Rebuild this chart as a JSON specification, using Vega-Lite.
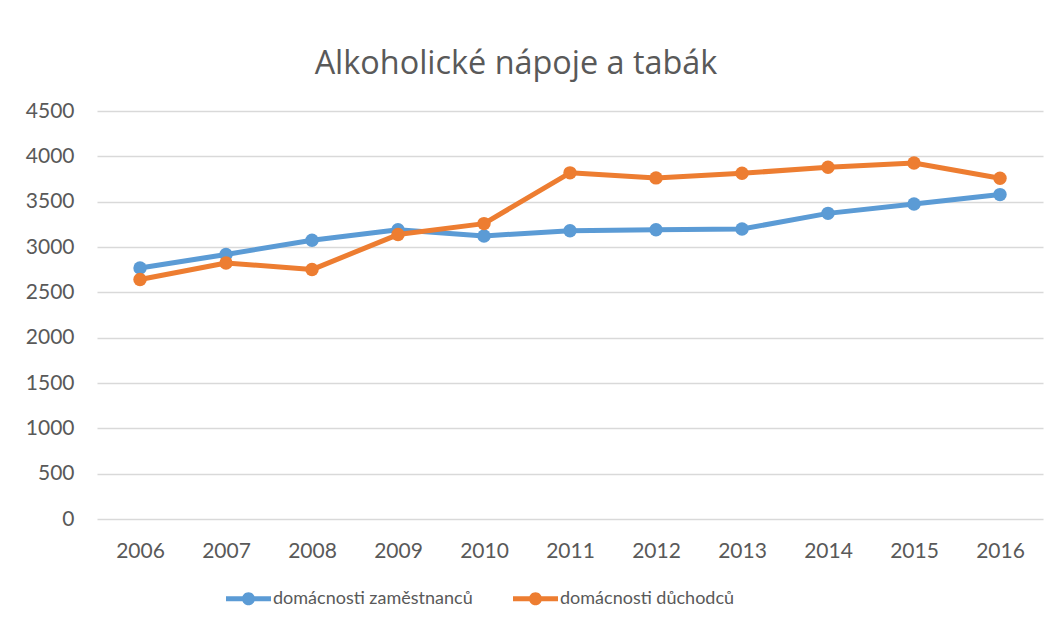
{
  "$schema": "https://vega.github.io/schema/vega-lite/v6.json",
  "width": 946,
  "height": 408,
  "autosize": {"type": "none"},
  "padding": {"left": 97, "top": 111, "right": 17, "bottom": 116},
  "background": "white",
  "title": {
    "text": "Alkoholické nápoje a tabák",
    "fontSize": 32.4,
    "font": "Open Sans",
    "fontWeight": "normal",
    "color": "#595959",
    "anchor": "middle",
    "offset": 20,
    "dx": -54
  },
  "data": {
    "values": [
      {"rok": "2006", "serie": "domácnosti zaměstnanců", "hodnota": 2768},
      {"rok": "2007", "serie": "domácnosti zaměstnanců", "hodnota": 2918},
      {"rok": "2008", "serie": "domácnosti zaměstnanců", "hodnota": 3074},
      {"rok": "2009", "serie": "domácnosti zaměstnanců", "hodnota": 3190},
      {"rok": "2010", "serie": "domácnosti zaměstnanců", "hodnota": 3122},
      {"rok": "2011", "serie": "domácnosti zaměstnanců", "hodnota": 3180},
      {"rok": "2012", "serie": "domácnosti zaměstnanců", "hodnota": 3190},
      {"rok": "2013", "serie": "domácnosti zaměstnanců", "hodnota": 3198},
      {"rok": "2014", "serie": "domácnosti zaměstnanců", "hodnota": 3371},
      {"rok": "2015", "serie": "domácnosti zaměstnanců", "hodnota": 3474},
      {"rok": "2016", "serie": "domácnosti zaměstnanců", "hodnota": 3578},
      {"rok": "2006", "serie": "domácnosti důchodců", "hodnota": 2641},
      {"rok": "2007", "serie": "domácnosti důchodců", "hodnota": 2824},
      {"rok": "2008", "serie": "domácnosti důchodců", "hodnota": 2751},
      {"rok": "2009", "serie": "domácnosti důchodců", "hodnota": 3137},
      {"rok": "2010", "serie": "domácnosti důchodců", "hodnota": 3258},
      {"rok": "2011", "serie": "domácnosti důchodců", "hodnota": 3818},
      {"rok": "2012", "serie": "domácnosti důchodců", "hodnota": 3762},
      {"rok": "2013", "serie": "domácnosti důchodců", "hodnota": 3813},
      {"rok": "2014", "serie": "domácnosti důchodců", "hodnota": 3880},
      {"rok": "2015", "serie": "domácnosti důchodců", "hodnota": 3927},
      {"rok": "2016", "serie": "domácnosti důchodců", "hodnota": 3758}
    ]
  },
  "encoding": {
    "x": {
      "field": "rok",
      "type": "ordinal",
      "scale": {"type": "point", "padding": 0.5},
      "axis": {
        "title": null,
        "labelAngle": 0,
        "labelFontSize": 21,
        "labelFont": "Lato",
        "labelColor": "#595959",
        "labelPadding": 21,
        "ticks": false,
        "domain": false,
        "grid": false
      }
    },
    "y": {
      "field": "hodnota",
      "type": "quantitative",
      "scale": {"domain": [0, 4500], "nice": false},
      "axis": {
        "title": null,
        "format": "d",
        "values": [0, 500, 1000, 1500, 2000, 2500, 3000, 3500, 4000, 4500],
        "labelFontSize": 21,
        "labelFont": "Lato",
        "labelColor": "#595959",
        "labelPadding": 23,
        "ticks": false,
        "domain": false,
        "grid": true,
        "gridColor": "#d9d9d9",
        "gridWidth": 1.5
      }
    },
    "color": {
      "field": "serie",
      "type": "nominal",
      "scale": {
        "domain": ["domácnosti zaměstnanců", "domácnosti důchodců"],
        "range": ["#5B9BD5", "#ED7D31"]
      },
      "legend": {
        "title": null,
        "orient": "none",
        "direction": "horizontal",
        "legendX": 129,
        "legendY": 465,
        "labelFontSize": 18,
        "labelFont": "Lato",
        "labelColor": "#595959",
        "labelLimit": 0,
        "labelOffset": 2,
        "columnPadding": 40,
        "symbolType": "M-1,-0.11 L1,-0.11 L1,0.11 L-1,0.11 Z M-0.29,0 A0.29,0.29 0 1,1 0.29,0 A0.29,0.29 0 1,1 -0.29,0 Z",
        "symbolSize": 2025,
        "symbolStrokeWidth": 0,
        "encode": {
          "symbols": {
            "update": {
              "fill": {"scale": "color", "field": "value"},
              "fillOpacity": {"value": 1},
              "strokeWidth": {"value": 0}
            }
          }
        }
      }
    }
  },
  "layer": [
    {
      "transform": [{"filter": "datum.serie == 'domácnosti zaměstnanců'"}],
      "mark": {"type": "line", "strokeWidth": 5, "strokeCap": "round", "strokeJoin": "round"}
    },
    {
      "transform": [{"filter": "datum.serie == 'domácnosti zaměstnanců'"}],
      "mark": {"type": "point", "filled": true, "size": 180, "opacity": 1, "shape": "circle"}
    },
    {
      "transform": [{"filter": "datum.serie == 'domácnosti důchodců'"}],
      "mark": {"type": "line", "strokeWidth": 5, "strokeCap": "round", "strokeJoin": "round"}
    },
    {
      "transform": [{"filter": "datum.serie == 'domácnosti důchodců'"}],
      "mark": {"type": "point", "filled": true, "size": 180, "opacity": 1, "shape": "circle"}
    }
  ],
  "config": {"view": {"stroke": null}}
}
